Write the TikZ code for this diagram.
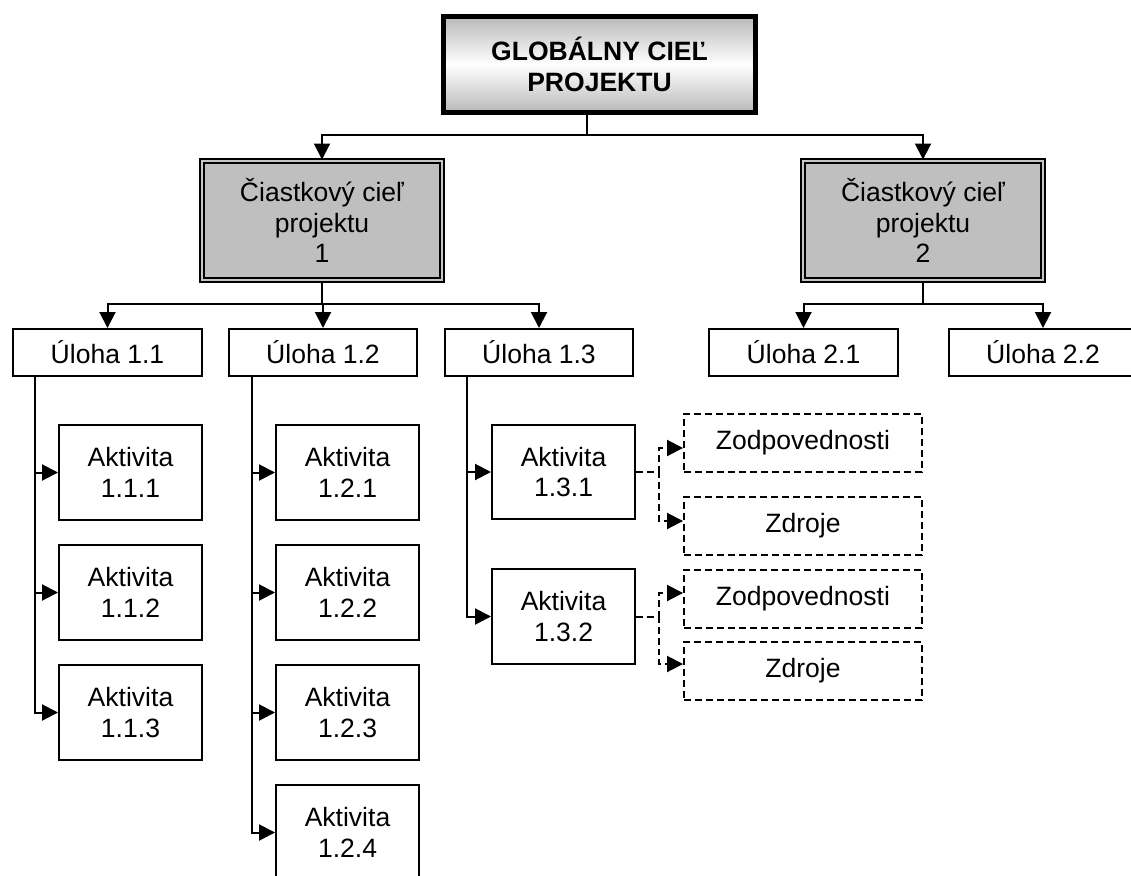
\documentclass[tikz,border=0pt]{standalone}
\usepackage{fontspec}
\setmainfont{Liberation Sans}
\usetikzlibrary{arrows.meta}
\newcommand\boxfont{\fontsize{15.1pt}{17.4pt}\selectfont}
\tikzset{
  link/.style={line width=0.04cm},
  arr/.style={link,-{Triangle[length=0.32cm,width=0.32cm]}},
  dasharr/.style={arr,dash pattern=on 0.14cm off 0.08cm},
  goalbox/.style={draw,line width=0.1cm,top color=gray!55,bottom color=gray!55,middle color=white,
    font=\boxfont\bfseries,align=center,minimum width=6.24cm,minimum height=1.92cm,inner sep=0pt},
  subbox/.style={draw,line width=0.04cm,double=gray!45,double distance=0.04cm,fill=gray!50,
    font=\boxfont,align=center,minimum width=4.82cm,minimum height=2.4cm,inner sep=0pt},
  taskbox/.style={draw,line width=0.04cm,font=\boxfont,align=center,
    minimum width=3.78cm,minimum height=0.94cm,inner sep=0pt},
  actbox/.style={taskbox,minimum width=2.86cm,minimum height=1.9cm},
  resbox/.style={taskbox,dash pattern=on 0.14cm off 0.08cm,minimum width=4.76cm,minimum height=1.16cm}
}

\begin{document}
\begin{tikzpicture}[x=0.02cm,y=-0.02cm]
\useasboundingbox (0,0) rectangle (1131,875);
\clip (0,0) rectangle (1131,875);

\node[goalbox] (goal) at (599.5,64.5) {GLOBÁLNY CIEĽ\\PROJEKTU};
\node[subbox] (s1) at (322,220.5) {Čiastkový cieľ\\projektu\\1};
\node[subbox] (s2) at (923,220.5) {Čiastkový cieľ\\projektu\\2};

\node[taskbox] (t11) at (107.5,352.5) {Úloha 1.1};
\node[taskbox] (t12) at (323,352.5) {Úloha 1.2};
\node[taskbox] (t13) at (539,352.5) {Úloha 1.3};
\node[taskbox] (t21) at (803.5,352.5) {Úloha 2.1};
\node[taskbox] (t22) at (1043,352.5) {Úloha 2.2};

\node[actbox] (a111) at (130.5,472.5) {Aktivita\\1.1.1};
\node[actbox] (a112) at (130.5,592.5) {Aktivita\\1.1.2};
\node[actbox] (a113) at (130.5,712.5) {Aktivita\\1.1.3};
\node[actbox] (a121) at (347.5,472.5) {Aktivita\\1.2.1};
\node[actbox] (a122) at (347.5,592.5) {Aktivita\\1.2.2};
\node[actbox] (a123) at (347.5,712.5) {Aktivita\\1.2.3};
\node[actbox] (a124) at (347.5,832.5) {Aktivita\\1.2.4};
\node[actbox] (a131) at (563.5,472) {Aktivita\\1.3.1};
\node[actbox] (a132) at (563.5,616.5) {Aktivita\\1.3.2};

\node[resbox] (z1) at (803,443) {Zodpovednosti};
\node[resbox] (r1) at (803,525.5) {Zdroje};
\node[resbox] (z2) at (803,599) {Zodpovednosti};
\node[resbox] (r2) at (803,671) {Zdroje};

% goal to sub-goals
\coordinate (gj) at (587,135);
\draw[link] (gj |- goal.south) -- (gj);
\draw[arr] (gj) -| (s1);
\draw[arr] (gj) -| (s2);

% sub-goals to tasks
\coordinate (j1) at (322,304);
\coordinate (j2) at (923,304);
\draw[link] (s1.south) -- (j1);
\draw[link] (s2.south) -- (j2);
\foreach \t in {t11,t12,t13} \draw[arr] (j1) -| (\t);
\foreach \t in {t21,t22} \draw[arr] (j2) -| (\t);

% tasks to activities
\foreach \a in {a111,a112,a113} \draw[arr] (t11.south west) ++(23,0) |- (\a);
\foreach \a in {a121,a122,a123,a124} \draw[arr] (t12.south west) ++(24,0) |- (\a);
\foreach \a in {a131,a132} \draw[arr] (t13.south west) ++(23,0) |- (\a);

% activities to responsibilities and resources
\draw[dasharr] (a131.east) -- ++(23,0) |- ([yshift=-0.1cm]z1.west);
\draw[dasharr] (a131.east) -- ++(23,0) |- ([yshift=0.09cm]r1.west);
\draw[dasharr] (a132.east) -- ++(23,0) |- ([yshift=0.12cm]z2.west);
\draw[dasharr] (a132.east) -- ++(23,0) |- ([yshift=0.14cm]r2.west);
\end{tikzpicture}
\end{document}
